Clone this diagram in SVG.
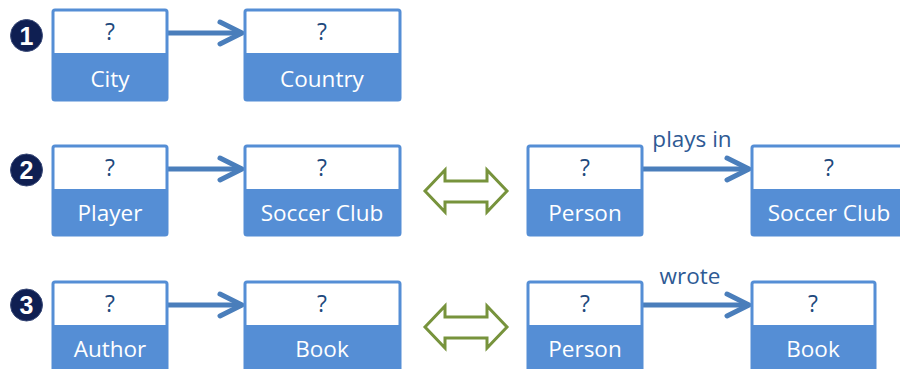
<svg xmlns="http://www.w3.org/2000/svg" width="900" height="369" viewBox="0 0 900 369">
<style>
.box{fill:#fff;stroke:#558ED5;stroke-width:3}
.band{fill:#558ED5}
.q{font-family:"Open Sans","Liberation Sans",sans-serif;font-size:23px;fill:#1F497D;text-anchor:middle}
.lbl{font-family:"Open Sans","Liberation Sans",sans-serif;font-size:22.5px;fill:#fff;text-anchor:middle}
.rel{font-family:"Open Sans","Liberation Sans",sans-serif;font-size:22.5px;fill:#2E5A94;text-anchor:middle}
.conn{stroke:#4A7EBB;stroke-width:5;fill:none;marker-end:url(#chev)}
.num circle{fill:#0F1F52;stroke:#3A4A78;stroke-width:1}
.num text{font-family:"Liberation Sans",Arial,sans-serif;font-weight:bold;font-size:25px;fill:#fff;text-anchor:middle}
.dbl{fill:#fff;stroke:#77933C;stroke-width:3;stroke-linejoin:miter}
</style>
<defs>
<marker id="chev" markerUnits="userSpaceOnUse" viewBox="-30 -20 40 40" markerWidth="40" markerHeight="40" refX="0" refY="0" orient="auto">
<path d="M-22,-11 L0,0 L-22,11" fill="none" stroke="#4A7EBB" stroke-width="5" stroke-linecap="round" stroke-linejoin="round"/>
</marker>
</defs>

<g id="num1" class="num"><circle cx="26.5" cy="35.5" r="16"/><text x="26.5" y="44.5">1</text></g>
<g id="num2" class="num"><circle cx="26.5" cy="170" r="16"/><text x="26.5" y="179">2</text></g>
<g id="num3" class="num"><circle cx="26.5" cy="305" r="16"/><text x="26.5" y="314">3</text></g>

<g id="connectors">
<line class="conn" x1="167" y1="33" x2="242" y2="33"/>
<line class="conn" x1="167" y1="169" x2="242" y2="169"/>
<line class="conn" x1="642" y1="169" x2="749" y2="169"/>
<line class="conn" x1="167" y1="305" x2="242" y2="305"/>
<line class="conn" x1="642" y1="305" x2="749" y2="305"/>
<text class="rel" x="692" y="147">plays in</text>
<text class="rel" x="690" y="284">wrote</text>
</g>

<g id="equiv2"><polygon class="dbl" points="425,191 445,170 445,181 487,181 487,170 507,191 487,212 487,202 445,202 445,212"/></g>
<g id="equiv3"><polygon class="dbl" points="425,327 445,306 445,317 487,317 487,306 507,327 487,348 487,338 445,338 445,348"/></g>

<g id="city"><rect class="box" x="53" y="10" width="114" height="90" rx="2"/><rect class="band" x="53" y="53" width="114" height="47"/><text class="q" x="110" y="40">?</text><text class="lbl" x="110" y="87">City</text></g>
<g id="country"><rect class="box" x="245" y="10" width="155" height="90" rx="2"/><rect class="band" x="245" y="53" width="155" height="47"/><text class="q" x="322" y="40">?</text><text class="lbl" x="322" y="87">Country</text></g>

<g id="player"><rect class="box" x="53" y="146" width="114" height="89" rx="2"/><rect class="band" x="53" y="189" width="114" height="46"/><text class="q" x="110" y="176">?</text><text class="lbl" x="110" y="221">Player</text></g>
<g id="club1"><rect class="box" x="245" y="146" width="155" height="89" rx="2"/><rect class="band" x="245" y="189" width="155" height="46"/><text class="q" x="322" y="176">?</text><text class="lbl" x="322" y="221">Soccer Club</text></g>
<g id="person1"><rect class="box" x="528" y="146" width="114" height="89" rx="2"/><rect class="band" x="528" y="189" width="114" height="46"/><text class="q" x="585" y="176">?</text><text class="lbl" x="585" y="221">Person</text></g>
<g id="club2"><rect class="box" x="752" y="146" width="155" height="89" rx="2"/><rect class="band" x="752" y="189" width="155" height="46"/><text class="q" x="829" y="176">?</text><text class="lbl" x="829" y="221">Soccer Club</text></g>

<g id="author"><rect class="box" x="53" y="282" width="114" height="90" rx="2"/><rect class="band" x="53" y="325" width="114" height="47"/><text class="q" x="110" y="312">?</text><text class="lbl" x="110" y="357">Author</text></g>
<g id="book1"><rect class="box" x="245" y="282" width="155" height="90" rx="2"/><rect class="band" x="245" y="325" width="155" height="47"/><text class="q" x="322" y="312">?</text><text class="lbl" x="322" y="357">Book</text></g>
<g id="person2"><rect class="box" x="528" y="282" width="114" height="90" rx="2"/><rect class="band" x="528" y="325" width="114" height="47"/><text class="q" x="585" y="312">?</text><text class="lbl" x="585" y="357">Person</text></g>
<g id="book2"><rect class="box" x="752" y="282" width="123" height="90" rx="2"/><rect class="band" x="752" y="325" width="123" height="47"/><text class="q" x="813" y="312">?</text><text class="lbl" x="813" y="357">Book</text></g>
</svg>
